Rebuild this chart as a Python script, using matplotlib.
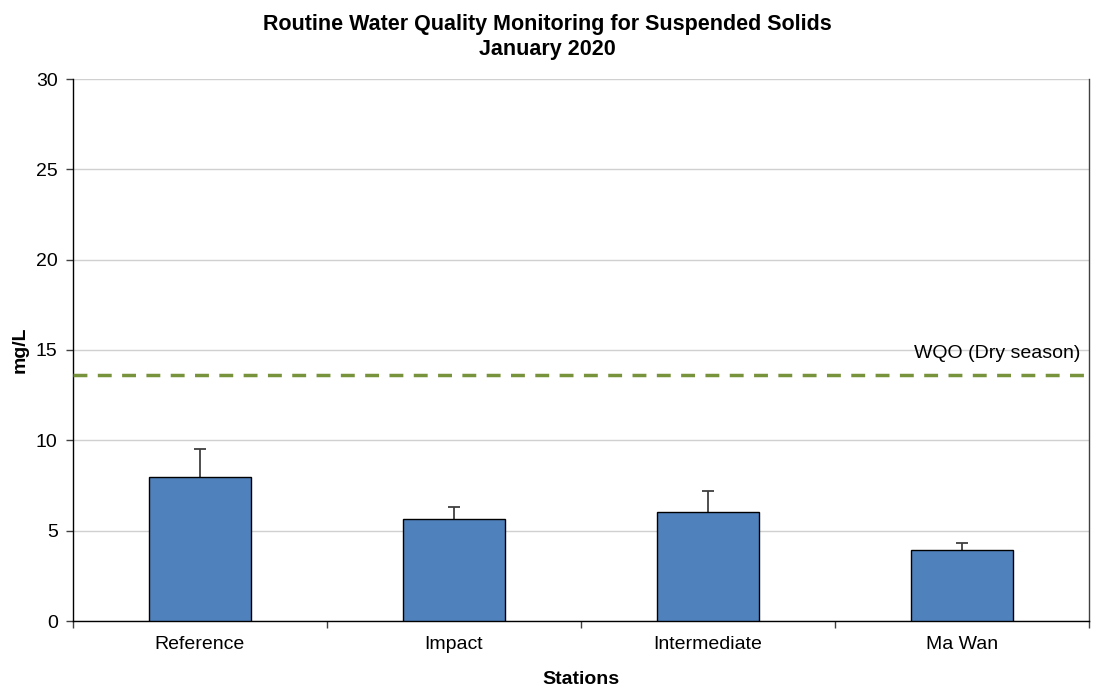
import matplotlib
matplotlib.use("Agg")
import matplotlib.pyplot as plt
import numpy as np

stations = ["Reference", "Impact", "Intermediate", "Ma Wan"]
means = [7.97, 5.64, 6.02, 3.93]
errors = [1.55, 0.68, 1.17, 0.38]
wqo_value = 13.6
yticks = [0, 5, 10, 15, 20, 25, 30]

plt.rcParams['font.family'] = ['Liberation Sans', 'DejaVu Sans']

fig = plt.figure(figsize=(10.94, 6.87), dpi=100)
ax = fig.add_axes([73/1094, 66/687, 1016/1094, 542/687])

x = np.arange(len(stations))
ax.bar(x, means, width=0.4, color="#4F81BD", edgecolor="black", linewidth=1.0, zorder=3)
eb = ax.errorbar(x, means, yerr=[np.zeros(len(errors)), errors], fmt="none",
                 ecolor="#404040", elinewidth=1.3, capsize=4, capthick=1.3, zorder=2)
caplines = eb.lines[1]
if len(caplines) >= 2:
    caplines[0].set_visible(False)

ax.axhline(wqo_value, color="#77933C", linestyle=(0, (4, 3)), linewidth=2.5, zorder=4)
ax.text(len(stations) - 0.5 - 0.035, wqo_value + 0.75, "WQO (Dry season)", ha="right", va="bottom",
        fontsize=14)

ax.set_xlim(-0.5, len(stations) - 0.5)
ax.set_ylim(0, 30)
ax.set_yticks(yticks)
ax.yaxis.grid(True, color="#D0D0D0", linewidth=1.0, zorder=0)
ax.set_axisbelow(True)

ax.set_xticks(x)
ax.set_xticklabels(stations, fontsize=14)
ax.set_xticks(np.arange(len(stations) + 1) - 0.5, minor=True)
ax.tick_params(axis="x", which="major", length=0, pad=11)
ax.tick_params(axis="x", which="minor", length=5, width=1, color="#404040")
ax.tick_params(axis="y", labelsize=14, length=5, width=1, color="#404040", direction="out", pad=6)

for s in ["left", "bottom"]:
    ax.spines[s].set_color("black")
    ax.spines[s].set_linewidth(1.0)
ax.spines["right"].set_color("#404040")
ax.spines["right"].set_linewidth(1.0)
ax.spines["top"].set_visible(False)

ax.set_ylabel("mg/L", fontsize=14, fontweight="bold", labelpad=5)
ax.set_xlabel("Stations", fontsize=14, fontweight="bold", labelpad=13)

fig.suptitle("Routine Water Quality Monitoring for Suspended Solids\nJanuary 2020",
             fontsize=15.5, fontweight="bold", y=0.98, linespacing=1.25)

fig.savefig("out.png", dpi=100)
